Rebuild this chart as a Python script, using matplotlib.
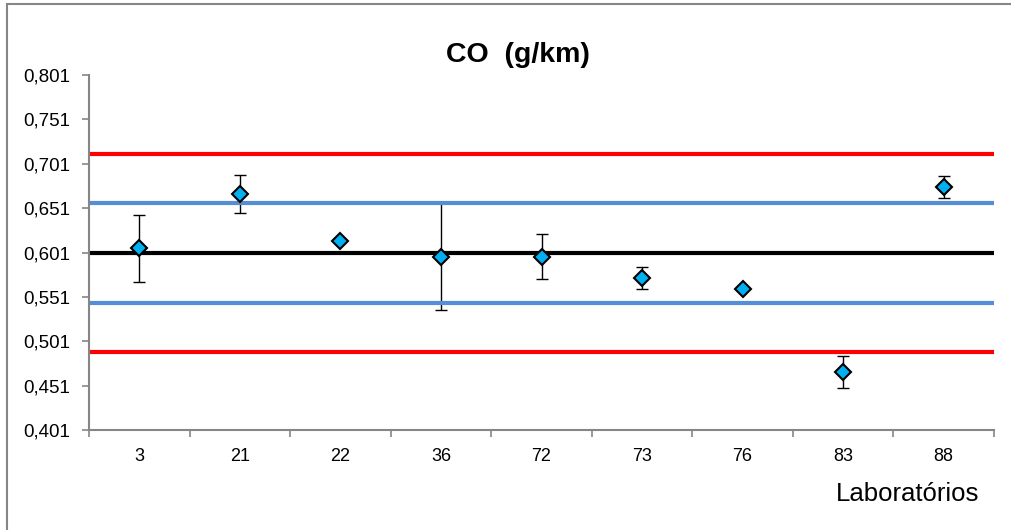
import matplotlib.pyplot as plt
from matplotlib.patches import Rectangle
from matplotlib.ticker import FixedLocator, FuncFormatter

plt.rcParams['font.family'] = ['Liberation Sans', 'DejaVu Sans']

# Data
labs = ['3', '21', '22', '36', '72', '73', '76', '83', '88']
values = [0.6057, 0.6669, 0.6140, 0.5963, 0.5963, 0.5723, 0.5599, 0.4664, 0.6745]
errors = [0.0380, 0.0218, 0.0000, 0.0600, 0.0255, 0.0120, 0.0000, 0.0183, 0.0125]

assigned = 0.601
upper_warn, lower_warn = 0.6565, 0.5445
upper_act, lower_act = 0.7125, 0.4885

yticks = [0.401, 0.451, 0.501, 0.551, 0.601, 0.651, 0.701, 0.751, 0.801]

fig = plt.figure(figsize=(10.11, 5.30), dpi=100)
ax = fig.add_axes([89 / 1011, 1 - 430 / 530, (994 - 89) / 1011, (430 - 75) / 530])

x = list(range(len(labs)))

# reference lines
ax.axhline(upper_act, color='#FF0000', lw=3, zorder=2)
ax.axhline(lower_act, color='#FF0000', lw=3, zorder=2)
ax.axhline(upper_warn, color='#558ED5', lw=3, zorder=2)
ax.axhline(lower_warn, color='#558ED5', lw=3, zorder=2)
ax.axhline(assigned, color='black', lw=3, zorder=2)

# laboratory results
ax.errorbar(x, values, yerr=errors, fmt='none', ecolor='black', elinewidth=1,
            capsize=4, capthick=1, zorder=1.5)
ax.plot(x, values, 'D', ms=8.5, mfc='#00B0F0', mec='black', mew=1.5, zorder=4)

ax.set_xlim(-0.5, len(labs) - 0.5)
ax.set_ylim(0.401, 0.801)

ax.set_yticks(yticks)
ax.yaxis.set_major_formatter(FuncFormatter(lambda v, p: f'{v:.3f}'.replace('.', ',')))
ax.set_xticks(x)
ax.set_xticklabels(labs)
ax.xaxis.set_minor_locator(FixedLocator([i - 0.5 for i in range(len(labs) + 1)]))

ax.tick_params(axis='y', which='major', length=5, width=1.2, color='#868686',
               labelsize=13.5, pad=8.5)
ax.tick_params(axis='x', which='major', length=0, labelsize=13, pad=13)
ax.tick_params(axis='x', which='minor', length=5, width=1.2, color='#868686')

for s in ['top', 'right']:
    ax.spines[s].set_visible(False)
for s in ['left', 'bottom']:
    ax.spines[s].set_color('#868686')
    ax.spines[s].set_linewidth(1.5)

fig.text(518 / 1011, 1 - 55 / 530, 'CO  (g/km)', ha='center', va='center',
         fontsize=20.5, fontweight='bold')
fig.text(979 / 1011, 1 - 494 / 530, 'Laboratórios', ha='right', va='center',
         fontsize=18.5)

# chart area border
fig.patches.append(Rectangle((7 / 1011, -0.1), 1.2, 1 - 4 / 530 + 0.1,
                             transform=fig.transFigure, fill=False,
                             edgecolor='#868686', lw=1.5))

fig.savefig('out.png', dpi=100)
